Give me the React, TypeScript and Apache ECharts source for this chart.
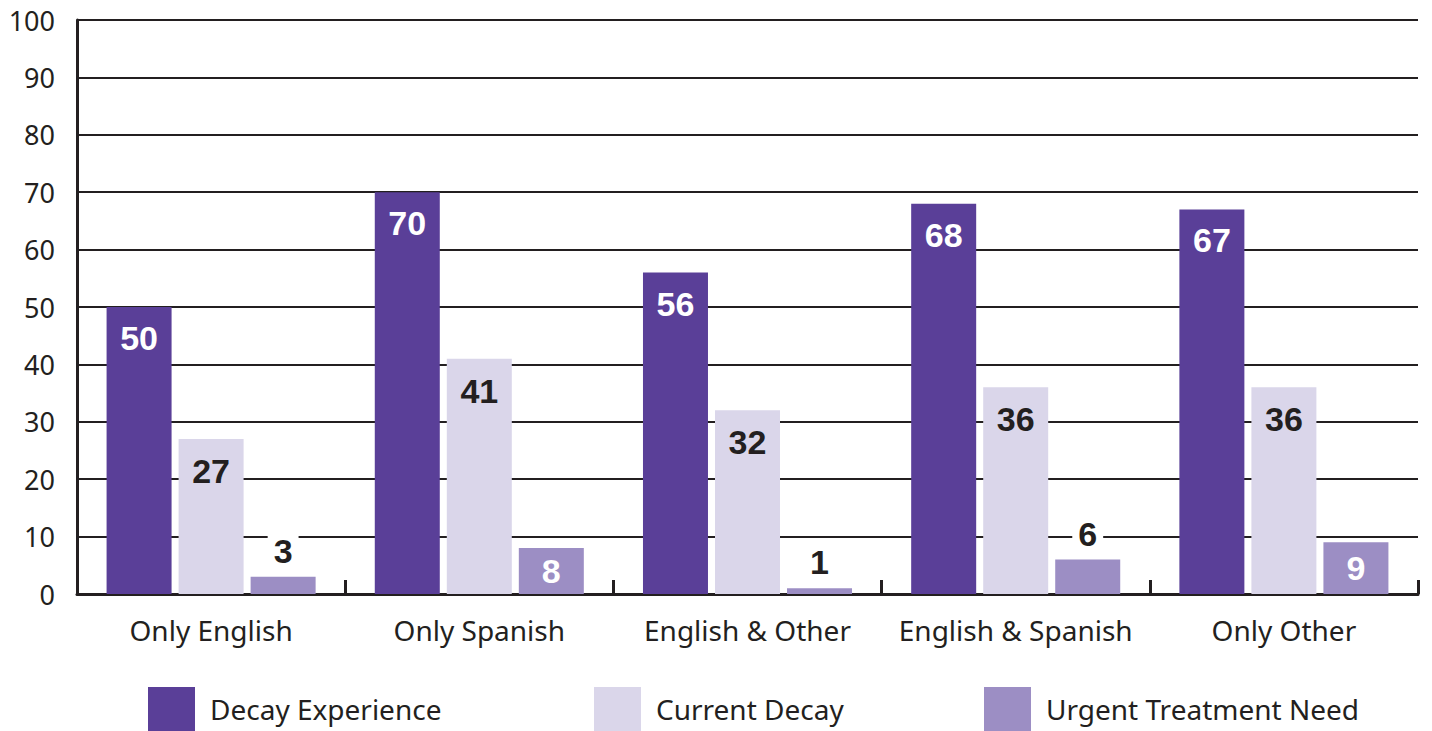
import React, { useEffect, useRef } from "react";
import * as echarts from "echarts";

const categories = ["Only English", "Only Spanish", "English & Other", "English & Spanish", "Only Other"];
const seriesNames = ["Decay Experience", "Current Decay", "Urgent Treatment Need"];
const decayExperience = [50, 70, 56, 68, 67];
const currentDecay = [27, 41, 32, 36, 36];
const urgentTreatment = [3, 8, 1, 6, 9];
const yTicks = { min: 0, max: 100, interval: 10 };

const colors = ["#5a3f98", "#dad6ea", "#9c8ec4"];
const dark = "#231f20";
const axisFont = "'Noto Sans', 'Open Sans', sans-serif";
const valueFont = "'Liberation Sans', Arial, sans-serif";

export default function App() {
  const ref = useRef<HTMLDivElement>(null);
  useEffect(() => {
    if (!ref.current) return;
    const chart = echarts.init(ref.current, null, { renderer: "svg" });
    const baseLabel = {
      show: true,
      fontFamily: valueFont,
      fontWeight: "bold" as const,
      fontSize: 34,
    };
    const legendBase = {
      top: 687,
      padding: 0,
      itemWidth: 47,
      itemHeight: 44,
      itemGap: 15,
      icon: "rect",
      textStyle: { fontSize: 28, color: dark, fontFamily: axisFont, padding: [26, 0, 0, 10] },
    };
    chart.setOption({
      animation: false,
      grid: { left: 77, right: 14, top: 20, bottom: 137 },
      legend: [
        { ...legendBase, left: 148, data: [seriesNames[0]] },
        { ...legendBase, left: 594, data: [seriesNames[1]] },
        { ...legendBase, left: 984, data: [seriesNames[2]] },
      ],
      xAxis: {
        type: "category",
        data: categories,
        axisLine: { show: true, lineStyle: { color: dark, width: 3 } },
        axisTick: { show: true, inside: true, length: 14, lineStyle: { color: dark, width: 3 } },
        axisLabel: { interval: 0, fontSize: 28, color: dark, fontFamily: axisFont, margin: 22 },
      },
      yAxis: {
        type: "value",
        min: yTicks.min,
        max: yTicks.max,
        interval: yTicks.interval,
        axisLine: { show: true, lineStyle: { color: dark, width: 3 } },
        axisTick: { show: false },
        axisLabel: { fontSize: 27, color: dark, fontFamily: axisFont, margin: 22 },
        splitLine: { show: true, lineStyle: { color: dark, width: 2 } },
      },
      series: [
        {
          name: seriesNames[0],
          type: "bar",
          data: decayExperience,
          barWidth: 65,
          barGap: "10.8%",
          itemStyle: { color: colors[0] },
          label: { ...baseLabel, position: "insideTop", distance: 14, color: "#ffffff" },
        },
        {
          name: seriesNames[1],
          type: "bar",
          data: currentDecay,
          barWidth: 65,
          barGap: "10.8%",
          itemStyle: { color: colors[1] },
          label: { ...baseLabel, position: "insideTop", distance: 15, color: dark },
        },
        {
          name: seriesNames[2],
          type: "bar",
          barWidth: 65,
          barGap: "10.8%",
          itemStyle: { color: colors[2] },
          data: urgentTreatment.map((v) => ({
            value: v,
            label:
              v >= 8
                ? { position: "inside", color: "#ffffff" }
                : { position: "top", color: dark, backgroundColor: "#ffffff", padding: [0, 6], distance: 9 },
          })),
          label: { ...baseLabel },
        },
      ],
    });
    return () => chart.dispose();
  }, []);
  return <div ref={ref} style={{ width: 1432, height: 731, position: "absolute", left: 0, top: 0 }} />;
}
